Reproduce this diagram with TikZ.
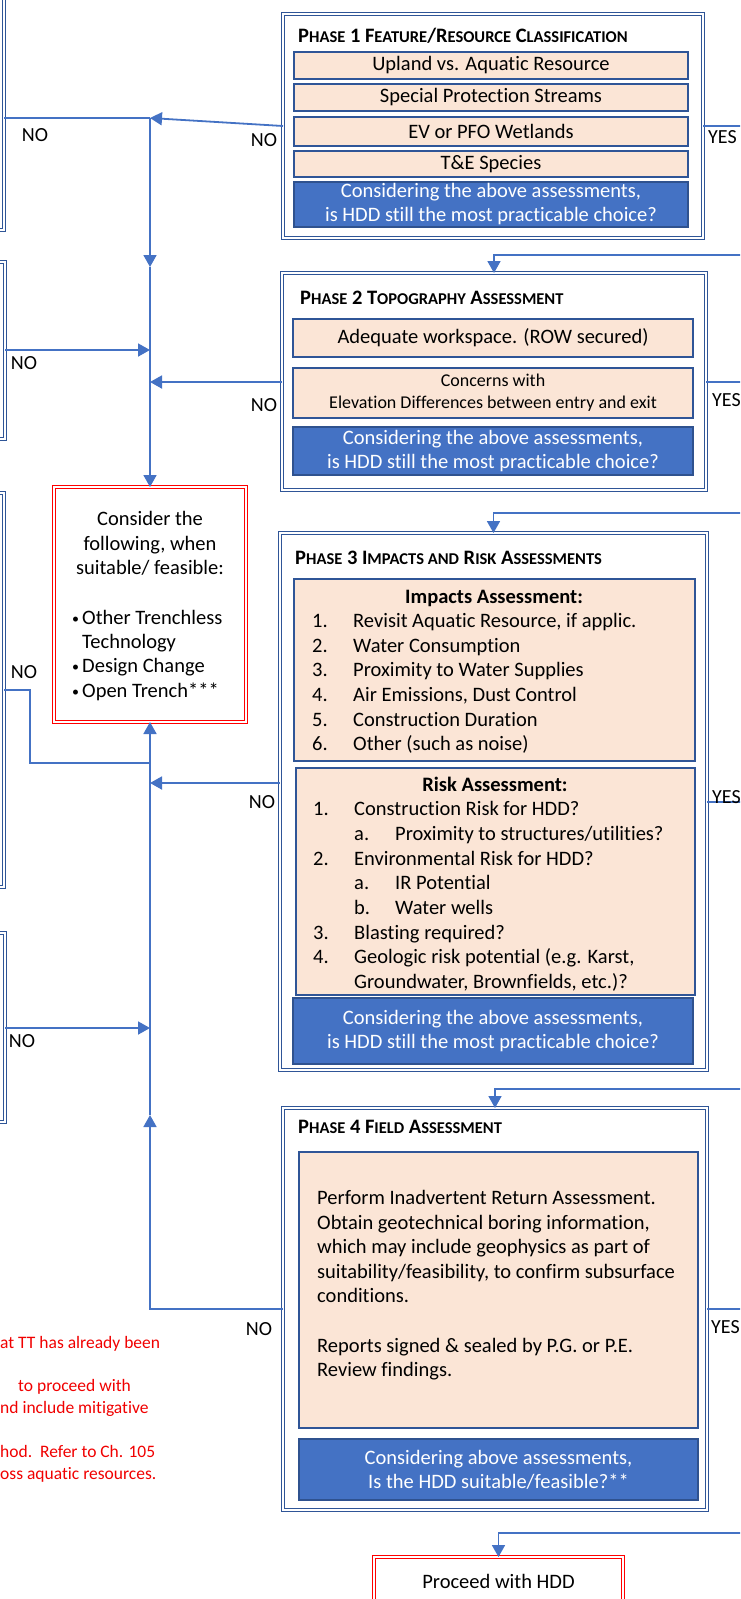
\documentclass[tikz,border=0pt]{standalone}
\usepackage{fontspec}
\setmainfont{Carlito}[Ligatures={NoCommon}]
\usetikzlibrary{arrows.meta,positioning}

\definecolor{lnblue}{HTML}{4472C4}
\definecolor{dkblue}{HTML}{2F5597}
\definecolor{peach}{HTML}{FBE5D6}
\definecolor{askfill}{HTML}{4472C4}
\definecolor{askedge}{HTML}{2F528F}
\definecolor{notered}{HTML}{F00000}

\newcommand\bodyfont{\fontsize{20.5}{24.6}\selectfont}
\newcommand\capsc[1]{{\fontsize{16.5}{16.5}\selectfont #1}}
\newcommand\bul{\makebox[10pt][l]{\raisebox{1pt}{\fontsize{14}{14}\selectfont\textbullet}}}

\begin{document}
\begin{tikzpicture}[x=1pt,y=-1pt,>={Triangle[length=12pt,width=13pt]},
  phase/.style={draw=dkblue,double=white,double distance=1.8pt,line width=1.5pt,fill=white,anchor=north west,inner sep=0pt,outer sep=0pt},
  cutbox/.style={phase,anchor=north east},
  redbox/.style={draw=red,double=white,double distance=1.8pt,line width=1.4pt,fill=white,anchor=north west,inner sep=0pt,outer sep=0pt},
  row/.style={draw=dkblue,line width=2.4pt,fill=peach,anchor=north west,inner sep=0pt,outer sep=0pt,font=\bodyfont},
  ask/.style={draw=askedge,line width=2pt,fill=askfill,text=white,align=center,anchor=north west,inner sep=0pt,outer sep=0pt,font=\fontsize{20.5}{24}\selectfont},
  title/.style={anchor=west,inner sep=0pt,font=\fontsize{20.5}{20.5}\selectfont\bfseries},
  item/.style={anchor=base west,inner sep=0pt,font=\bodyfont},
  lbl/.style={inner sep=0pt,font=\fontsize{20}{24}\selectfont},
  note/.style={anchor=base west,inner sep=0pt,text=notered,font=\fontsize{17.5}{21}\selectfont},
  flow/.style={draw=lnblue,line width=1.8pt}]
\useasboundingbox (0,0) rectangle (740,1599);
\clip (0,0) rectangle (740,1599);

% boxes cut off at the left
\node[cutbox,minimum width=80pt,minimum height=250pt] (leftA) at (4,-20) {};
\node[cutbox,minimum width=80pt,minimum height=177pt] (leftB) at (5,262) {};
\node[cutbox,minimum width=80pt,minimum height=394pt] (leftC) at (4,493) {};
\node[cutbox,minimum width=80pt,minimum height=189pt] (leftD) at (5,933) {};

% phase 1
\node[phase,minimum width=420pt,minimum height=224pt] (phase1) at (283,14) {};
\node[title] (title1) at (298,36) {P\capsc{HASE} 1 F\capsc{EATURE}/R\capsc{ESOURCE} C\capsc{LASSIFICATION}};
\node[row,minimum width=394pt,minimum height=27pt] (upland) at (294,52) {Upland vs. Aquatic Resource};
\node[row,minimum width=394pt,minimum height=27pt] (streams) at (294,84) {Special Protection Streams};
\node[row,minimum width=394pt,minimum height=29pt] (wetlands) at (294,117) {EV or PFO Wetlands};
\node[row,minimum width=394pt,minimum height=26pt] (species) at (294,151) {T\&E Species};
\node[ask,minimum width=394pt,minimum height=45pt] (ask1) at (294,182) {Considering the above assessments,\\is HDD still the most practicable choice?};

% phase 2
\node[phase,minimum width=424pt,minimum height=217pt] (phase2) at (282,273) {};
\node[title] (title2) at (300,298) {P\capsc{HASE} 2 T\capsc{OPOGRAPHY} A\capsc{SSESSMENT}};
\node[row,minimum width=400pt,minimum height=38pt] (workspace) at (293,319) {Adequate workspace. (ROW secured)};
\node[row,minimum width=400pt,minimum height=50pt,align=center,font=\fontsize{18}{22}\selectfont] (elevation) at (293,368) {Concerns with\\Elevation Differences between entry and exit};
\node[ask,minimum width=400pt,minimum height=48pt] (ask2) at (293,427) {Considering the above assessments,\\is HDD still the most practicable choice?};

% phase 3
\node[phase,minimum width=427pt,minimum height=537pt] (phase3) at (280,533) {};
\node[title] (title3) at (295,558) {P\capsc{HASE} 3 I\capsc{MPACTS AND} R\capsc{ISK} A\capsc{SSESSMENTS}};
\node[row,minimum width=401pt,minimum height=182pt] (impacts) at (294,579) {};
\node[item,anchor=base,font=\bodyfont\bfseries] (imphead) at (494,603.7) {Impacts Assessment:};
\foreach \n/\t [count=\i] in {1./{Revisit Aquatic Resource, if applic.},2./{Water Consumption},3./{Proximity to Water Supplies},4./{Air Emissions, Dust Control},5./{Construction Duration},6./{Other (such as noise)}}
{
\node[item] (impnum\i) at (312,{603+24.6*\i}) {\n};
\node[item] (imp\i) at (353,{603+24.6*\i}) {\t};
}
\node[row,minimum width=399pt,minimum height=227pt] (risk) at (296,768) {};
\node[item,anchor=base,font=\bodyfont\bfseries] (riskhead) at (495,791) {Risk Assessment:};
\foreach \x/\n/\t [count=\i] in {313/1./{Construction Risk for HDD?},354/a./{Proximity to structures/utilities?},313/2./{Environmental Risk for HDD?},354/a./{IR Potential},354/b./{Water wells},313/3./{Blasting required?},313/4./{Geologic risk potential (e.g. Karst,},313/{}/{Groundwater, Brownfields, etc.)?}}
{
\node[item] (risknum\i) at (\x,{791+24.7*\i}) {\n};
\node[item] (risk\i) at ({\x+41},{791+24.7*\i}) {\t};
}
\node[ask,minimum width=400pt,minimum height=66pt] (ask3) at (293,998) {Considering the above assessments,\\is HDD still the most practicable choice?};

% phase 4
\node[phase,minimum width=424pt,minimum height=402pt] (phase4) at (283,1108) {};
\node[title] (title4) at (298,1127) {P\capsc{HASE} 4 F\capsc{IELD} A\capsc{SSESSMENT}};
\node[row,minimum width=399pt,minimum height=276pt] (field) at (299,1152) {};
\node[anchor=north west,inner sep=0pt,align=left,font=\bodyfont] (fieldtext) at (317,1190) {Perform Inadvertent Return Assessment.\\Obtain geotechnical boring information,\\which may include geophysics as part of\\suitability/feasibility, to confirm subsurface\\conditions.\\[24.6pt]Reports signed \& sealed by P.G. or P.E.\\Review findings.};
\node[ask,minimum width=399pt,minimum height=61pt] (ask4) at (299,1439) {Considering above assessments,\\Is the HDD suitable/feasible?**};

% red boxes
\node[redbox,minimum width=192pt,minimum height=235pt] (consider) at (54,487) {};
\node[inner sep=0pt,align=center,font=\fontsize{20.5}{24.5}\selectfont] (considerhead) at (150,543.5) {Consider the\\following, when\\suitable/ feasible:};
\node[anchor=north west,inner sep=0pt,align=left,font=\fontsize{20.5}{24.2}\selectfont] (considerlist) at (72,610) {\bul Other Trenchless\\\hspace*{10pt}Technology\\\bul Design Change\\\bul Open Trench***};
\node[redbox,minimum width=249pt,minimum height=50pt] (proceed) at (374,1557) {};
\node[inner sep=0pt,font=\fontsize{20.5}{24}\selectfont] (proceedtext) at (498.5,1581) {Proceed with HDD};

% trunk points
\coordinate (j1) at (150,118);
\coordinate (j2) at (150,267);
\coordinate (j3) at (150,350);
\coordinate (j4) at (150,382);
\coordinate (k1) at (30,690);
\coordinate (k2) at (30,763);
\coordinate (j5) at (150,763);
\coordinate (j6) at (150,783);
\coordinate (j7) at (150,1028);
\coordinate (j8) at (150,1115);
\coordinate (j9) at (150,1309);

% NO connectors
\draw[flow] (leftA.east |- j1) -- (j1);
\draw[flow,->] (phase1.west) -- (j1);
\draw[flow,->] (j1) -- (j2);
\draw[flow,->] (j2) -- (consider.north);
\draw[flow,->] (leftB.east |- j3) -- (j3);
\draw[flow,->] (phase2.west |- j4) -- (j4);
\draw[flow] (leftC.east |- k1) -- (k1) -- (k2) -- (j5);
\draw[flow,->] (phase3.west |- j6) -- (j6);
\draw[flow,->] (leftD.east |- j7) -- (j7);
\draw[flow,->] (phase4.west |- j9) -- (j9) -- (j8);
\draw[flow,->] (j8) -- (consider.south);

% YES connectors
\coordinate (e1) at (760,126);
\coordinate (e2) at (760,255);
\coordinate (e3) at (760,382);
\coordinate (e4) at (760,513);
\coordinate (e5) at (760,802);
\coordinate (e6) at (760,1089);
\coordinate (e7) at (760,1309);
\coordinate (e8) at (760,1533);
\draw[flow] (phase1.east) -- (e1);
\draw[flow,->] (e2) -- (e2 -| phase2.north) -- (phase2.north);
\draw[flow] (phase2.east |- e3) -- (e3);
\draw[flow,->] (e4) -- (e4 -| phase3.north) -- (phase3.north);
\draw[flow] (phase3.east |- e5) -- (e5);
\draw[flow,->] (e6) -- (e6 -| phase4.north) -- (phase4.north);
\draw[flow] (phase4.east |- e7) -- (e7);
\draw[flow,->] (e8) -- (e8 -| proceed.north) -- (proceed.north);

% labels
\node[lbl] (noA) at (35,135) {NO};
\node[lbl] (no1) at (264,140) {NO};
\node[lbl] (noB) at (24,363) {NO};
\node[lbl] (no2) at (264,405) {NO};
\node[lbl] (noC) at (24,672) {NO};
\node[lbl] (no3) at (262,802) {NO};
\node[lbl] (noD) at (22,1041) {NO};
\node[lbl] (no4) at (259,1329) {NO};
\node[lbl,anchor=west] (yes1) at (708,137) {YES};
\node[lbl,anchor=west] (yes2) at (712,400) {YES};
\node[lbl,anchor=west] (yes3) at (712,797) {YES};
\node[lbl,anchor=west] (yes4) at (711,1327) {YES};

% footnotes cut at the left
\node[note] (note1) at (0,1348) {at TT has already been};
\node[note] (note2) at (18,1391) {to proceed with};
\node[note] (note3) at (0,1413) {nd include mitigative};
\node[note] (note4) at (0,1457) {hod.\ \ Refer to Ch. 105};
\node[note] (note5) at (0,1479) {oss aquatic resources.};
\end{tikzpicture}
\end{document}
